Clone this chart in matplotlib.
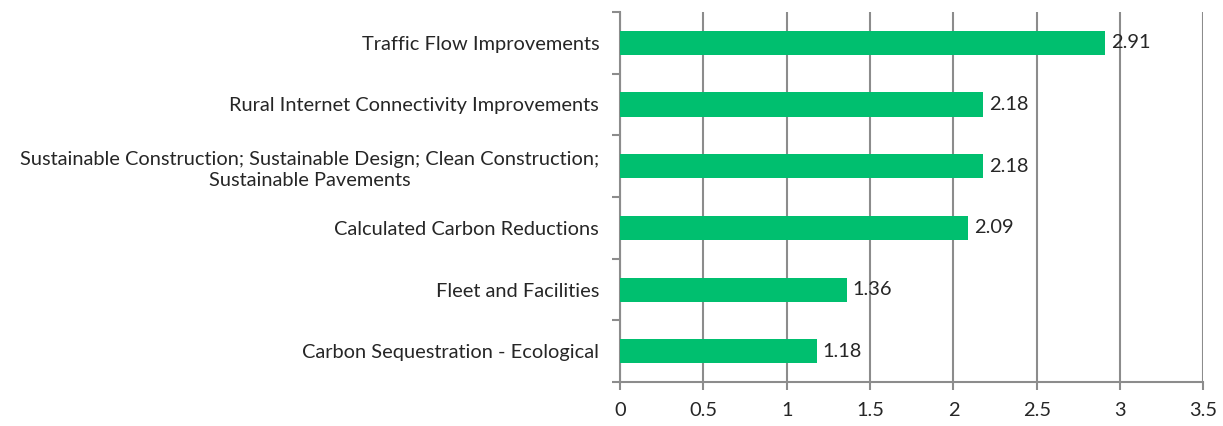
import numpy as np
import matplotlib
matplotlib.use("Agg")
import matplotlib.pyplot as plt

plt.rcParams.update({
    'font.family': ['Lato', 'DejaVu Sans'],
    'font.size': 14.4,
    'text.color': '#262626',
    'xtick.color': '#262626',
    'ytick.color': '#262626',
})

categories = [
    "Traffic Flow Improvements",
    "Rural Internet Connectivity Improvements",
    "Sustainable Construction; Sustainable Design; Clean Construction;\nSustainable Pavements",
    "Calculated Carbon Reductions",
    "Fleet and Facilities",
    "Carbon Sequestration - Ecological",
]
scores = [2.91, 2.18, 2.18, 2.09, 1.36, 1.18]
xticks = [0, 0.5, 1, 1.5, 2, 2.5, 3, 3.5]

bar_color = '#00bf6f'
grid_color = '#8c8c8c'

fig = plt.figure(figsize=(12.23, 4.26), dpi=100)
ax = fig.add_axes([0.507, 0.103, 0.477, 0.869])

y = np.arange(len(categories))[::-1]
ax.barh(y, scores, height=0.39, color=bar_color, zorder=3)

for yi, v in zip(y, scores):
    ax.text(v + 0.035, yi, f"{v:.2f}", va='center', ha='left', zorder=4)

ax.set_xlim(0, 3.5)
ax.set_ylim(-0.5, len(categories) - 0.5)
ax.set_xticks(xticks)
ax.set_xticklabels([f"{t:g}" for t in xticks])
ax.set_yticks(y)
ax.set_yticklabels(categories, multialignment='center', linespacing=1.3)
ax.tick_params(axis='y', length=0, pad=15)
ax.tick_params(axis='x', which='major', length=6, width=1.5, color=grid_color, pad=8,
               labelcolor='#262626')

# category boundary ticks on the left spine
ax.set_yticks(np.arange(-0.5, len(categories), 1.0), minor=True)
ax.tick_params(axis='y', which='minor', length=6, width=1.5, color=grid_color)

ax.grid(axis='x', color=grid_color, linewidth=1.5, zorder=0)
ax.set_axisbelow(True)
for s in ['top', 'right']:
    ax.spines[s].set_visible(False)
for s in ['left', 'bottom']:
    ax.spines[s].set_color(grid_color)
    ax.spines[s].set_linewidth(1.5)

fig.savefig('out.png', dpi=100)
